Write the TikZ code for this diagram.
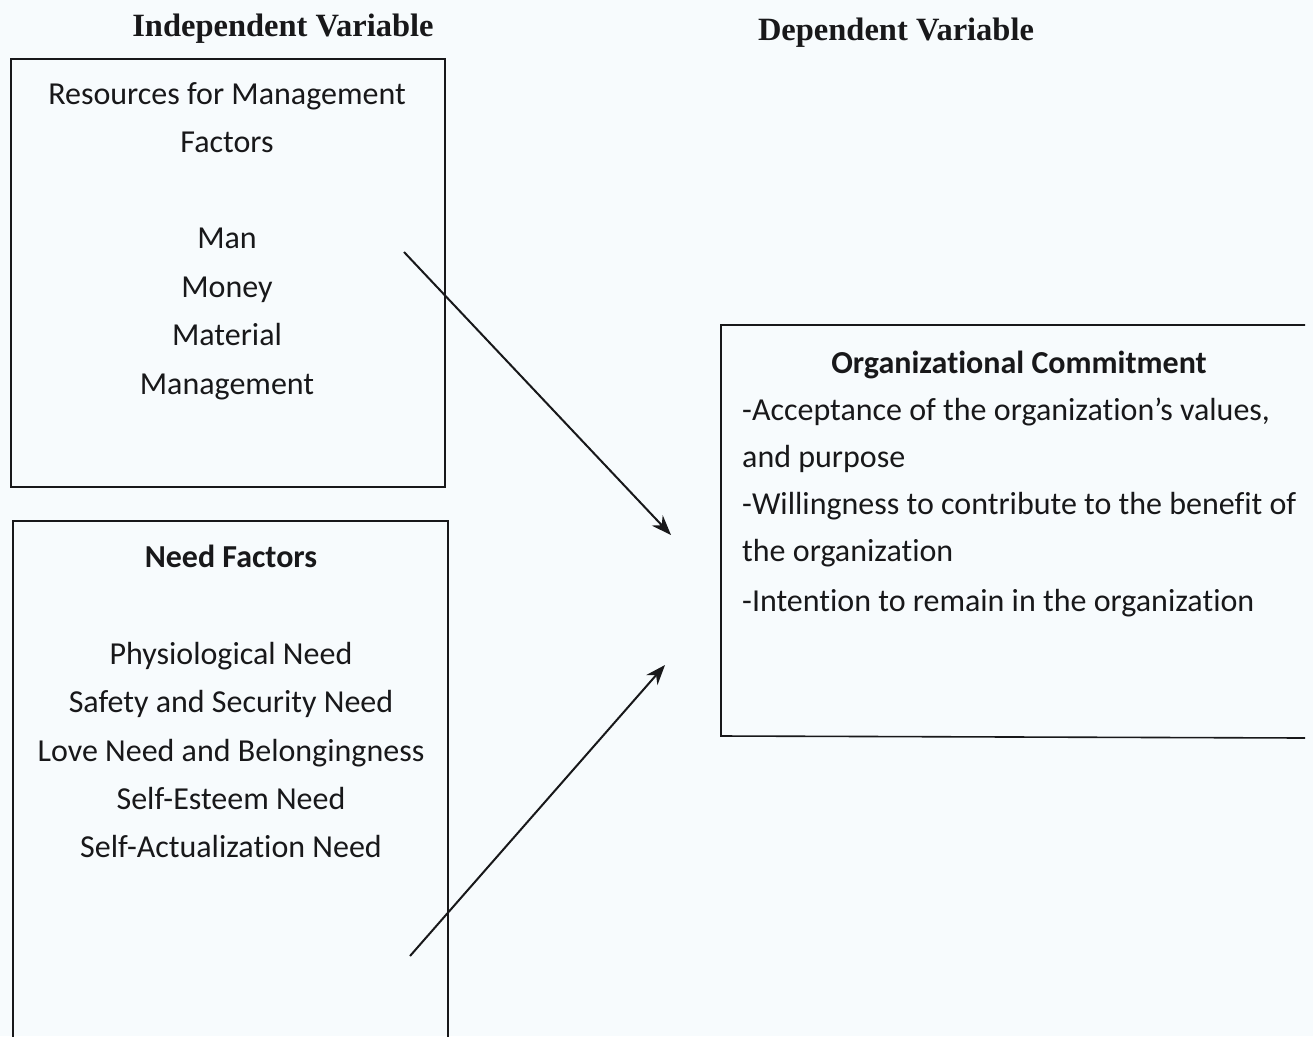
\documentclass[tikz,border=0pt]{standalone}
\usepackage{fontspec}
\setmainfont{Carlito}[RawFeature={-liga;-clig;-dlig}]
\newfontfamily\headfont{Liberation Serif}
\usetikzlibrary{arrows.meta}
\definecolor{paper}{RGB}{247,251,253}
\definecolor{ink}{RGB}{24,24,26}
\tikzset{
  boxline/.style={draw=ink, line width=1.6pt},
  body/.style={anchor=base, inner sep=0pt, text=ink, font=\fontsize{32}{38}\selectfont},
  bodyl/.style={body, anchor=base west},
  bodyb/.style={body, font=\fontsize{32}{38}\selectfont\bfseries},
  head/.style={anchor=base, inner sep=0pt, text=ink, font=\headfont\fontsize{32.5}{38}\selectfont\bfseries},
  link/.style={draw=ink, line width=2pt, -{Stealth[length=20pt,width=15pt]}}
}
\begin{document}
\begin{tikzpicture}[x=1pt,y=-1pt]
\useasboundingbox (0,0) rectangle (1313,1036);
\fill[paper] (0,0) rectangle (1313,1036);

% headings
\node[head] (hind) at (283,36) {Independent Variable};
\node[head] (hdep) at (896,40) {Dependent Variable};

% box 1
\node[boxline, minimum width=434pt, minimum height=428pt, inner sep=0pt, anchor=north west] (box1) at (10,58) {};
\node[body] (r1) at (227,104) {Resources for Management};
\node[body] (r2) at (227,152) {Factors};
\node[body] (r3) at (227,248) {Man};
\node[body] (r4) at (227,297) {Money};
\node[body] (r5) at (227,345) {Material};
\node[body] (r6) at (227,394) {Management};

% box 2 (bottom cut off)
\coordinate (b2a) at (13,1040);
\coordinate (b2b) at (13,521);
\coordinate (b2c) at (448,521);
\coordinate (b2d) at (448,1040);
\draw[boxline] (b2a) -- (b2b) -- (b2c) -- (b2d);
\node[bodyb] (n0) at (231,567) {Need Factors};
\node[body] (n1) at (231,664) {Physiological Need};
\node[body] (n2) at (231,712) {Safety and Security Need};
\node[body] (n3) at (231,761) {Love Need and Belongingness};
\node[body] (n4) at (231,809) {Self-Esteem Need};
\node[body] (n5) at (231,857) {Self-Actualization Need};

% right box (right side cut off)
\coordinate (c1) at (1305,325);
\coordinate (c2) at (721,325);
\coordinate (c3) at (721,736);
\coordinate (c4) at (1305,738);
\draw[boxline] (c1) -- (c2) -- (c3) -- (c4);
\node[bodyb] (o0) at (1019,373) {Organizational Commitment};
\node[bodyl] (o1) at (742,420) {-Acceptance of the organization’s values,};
\node[bodyl] (o2) at (742,467) {and purpose};
\node[bodyl] (o3) at (742,514) {-Willingness to contribute to the benefit of};
\node[bodyl] (o4) at (742,561) {the organization};
\node[bodyl] (o5) at (742,611) {-Intention to remain in the organization};

% arrows
\coordinate (a1s) at (404,252);
\coordinate (a1e) at (671,535);
\coordinate (a2s) at (410,956);
\coordinate (a2e) at (665,665);
\draw[link] (a1s) -- (a1e);
\draw[link] (a2s) -- (a2e);
\end{tikzpicture}
\end{document}
